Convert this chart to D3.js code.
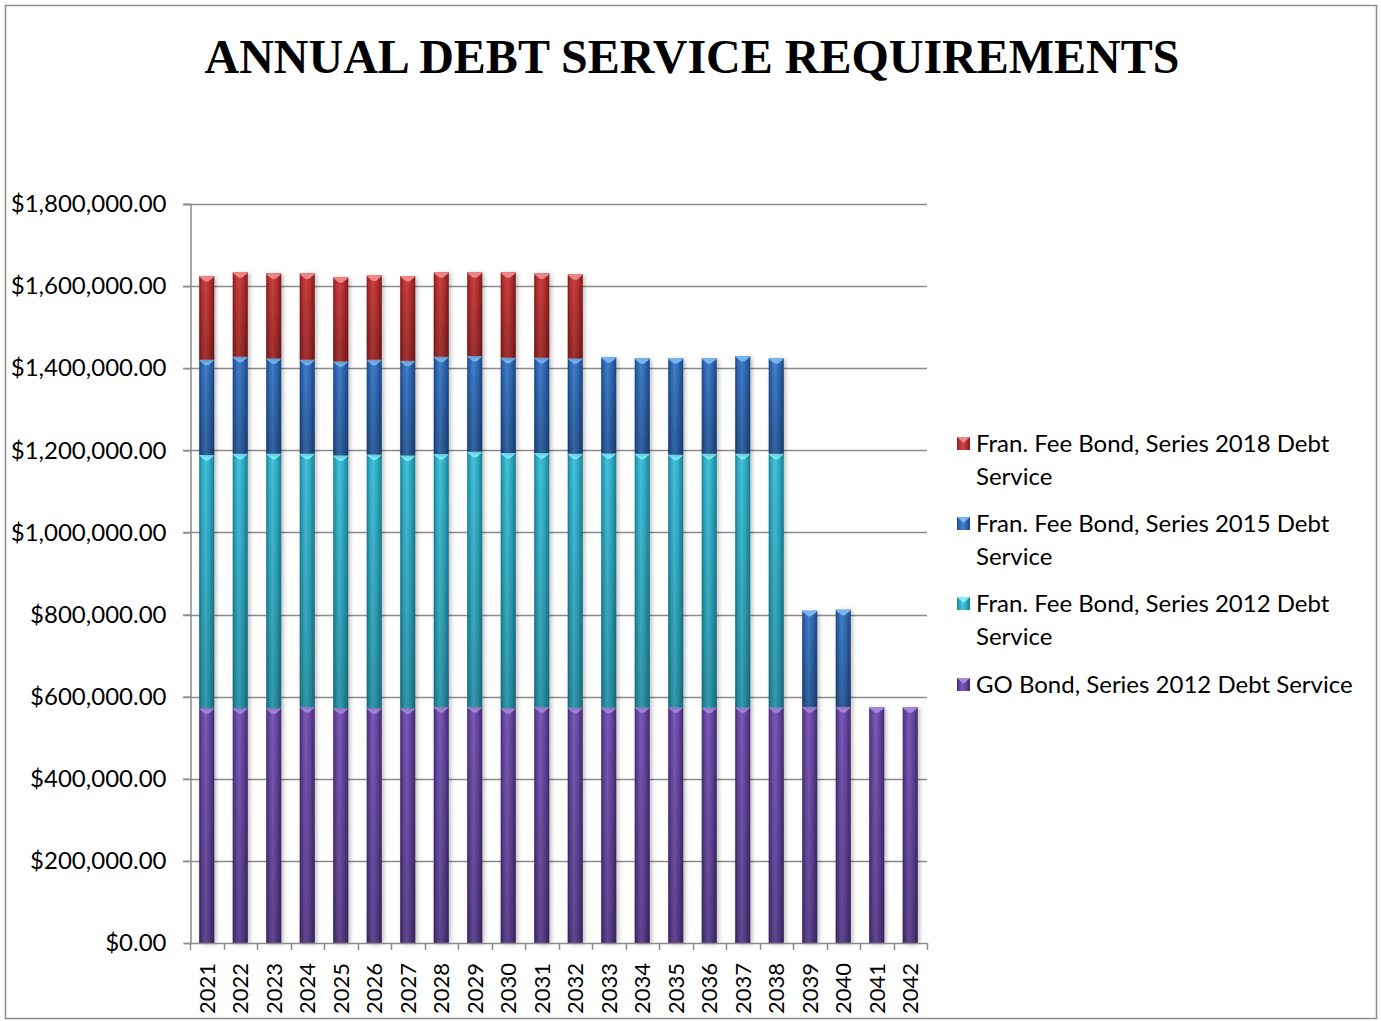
<!DOCTYPE html>
<html>
<head>
<meta charset="utf-8">
<script src="https://cdn.jsdelivr.net/npm/d3@7"></script>
<style>
  html, body { margin: 0; padding: 0; background: #fff; }
  svg { display: block; }
</style>
</head>
<body>
<svg id="chart" width="1381" height="1021"></svg>
<script>
// Fiscal years shown on the x axis
const years = ["2021","2022","2023","2024","2025","2026","2027","2028","2029","2030","2031",
               "2032","2033","2034","2035","2036","2037","2038","2039","2040","2041","2042"];

// Annual debt service per bond issue (dollars)
const goBond2012 = [572000, 572000, 572000, 575000, 572000, 572000, 572000, 575000, 575000, 572000, 575000,
                    573000, 573000, 574000, 574000, 573000, 574000, 574000, 575000, 575000, 574000, 574000];
const franFee2012 = [616600, 619800, 619800, 616800, 615700, 618000, 615700, 616000, 621700, 621400, 618400,
                     618800, 619600, 617800, 615400, 618800, 617800, 617800, 0, 0, 0, 0];
const franFee2015 = [232200, 236200, 232200, 229000, 229000, 230800, 230300, 237000, 233000, 232200, 232200,
                     232200, 234000, 232200, 234600, 232200, 237900, 232200, 234400, 236800, 0, 0];
const franFee2018 = [203800, 205600, 207000, 210200, 204700, 205200, 206600, 205600, 203900, 208000, 205400,
                     204700, 0, 0, 0, 0, 0, 0, 0, 0, 0, 0];

const seriesNames = ["GO Bond, Series 2012 Debt Service",
                     "Fran. Fee Bond, Series 2012 Debt Service",
                     "Fran. Fee Bond, Series 2015 Debt Service",
                     "Fran. Fee Bond, Series 2018 Debt Service"];
const seriesValues = [goBond2012, franFee2012, franFee2015, franFee2018];

// Legend lines (wrapped as in the legend box), top to bottom
const legendLines = [
  ["Fran. Fee Bond, Series 2018 Debt", "Service"],
  ["Fran. Fee Bond, Series 2015 Debt", "Service"],
  ["Fran. Fee Bond, Series 2012 Debt", "Service"],
  ["GO Bond, Series 2012 Debt Service"]
];
const legendSeries = [3, 2, 1, 0];

const yTicks = [0, 200000, 400000, 600000, 800000, 1000000, 1200000, 1400000, 1600000, 1800000];

// Palette per series: edge, body, highlight, bevel
const palette = [
  { edge: "#432a6c", body: "#6545a0", light: "#7a5bb6", bevel: "#a98ae0" },   // purple
  { edge: "#1b7f92", body: "#2eaac4", light: "#43c3db", bevel: "#7ff0ff" },   // cyan
  { edge: "#1c4781", body: "#2f68b4", light: "#417fca", bevel: "#7bb7f2" },   // blue
  { edge: "#7e1c1c", body: "#b83030", light: "#cc4141", bevel: "#f08a8a" }    // red
];

const margin = { left: 190, right: 927, top: 204, bottom: 943 };
const labelFont = "Lato, 'Open Sans', sans-serif";

const svg = d3.select("#chart");
const defs = svg.append("defs");

// Outer chart frame
svg.append("rect")
  .attr("x", 5.5).attr("y", 5.5)
  .attr("width", 1371).attr("height", 1013)
  .attr("fill", "#fff")
  .attr("stroke", "#8c8c8c")
  .attr("stroke-width", 1.5);

// Title
svg.append("text")
  .attr("x", 692).attr("y", 73)
  .attr("text-anchor", "middle")
  .attr("font-family", "'Liberation Serif', 'Times New Roman', serif")
  .attr("font-weight", "bold")
  .attr("font-size", 48)
  .attr("fill", "#000")
  .text("ANNUAL DEBT SERVICE REQUIREMENTS");

// Scales
const x = d3.scaleBand()
  .domain(years)
  .range([margin.left, margin.right])
  .paddingInner(0.55)
  .paddingOuter(0.275);

const y = d3.scaleLinear()
  .domain([0, 1800000])
  .range([margin.bottom, margin.top]);

// Gradients: horizontal shading gives the rounded bevel look, vertical one darkens toward the base
palette.forEach((p, i) => {
  const g = defs.append("linearGradient")
    .attr("id", "hgrad" + i)
    .attr("x1", "0").attr("x2", "1").attr("y1", "0").attr("y2", "0");
  g.append("stop").attr("offset", "0%").attr("stop-color", p.edge);
  g.append("stop").attr("offset", "18%").attr("stop-color", p.body);
  g.append("stop").attr("offset", "42%").attr("stop-color", p.light);
  g.append("stop").attr("offset", "70%").attr("stop-color", p.body);
  g.append("stop").attr("offset", "100%").attr("stop-color", p.edge);
});
const vg = defs.append("linearGradient")
  .attr("id", "vshade")
  .attr("x1", "0").attr("x2", "0").attr("y1", "0").attr("y2", "1");
vg.append("stop").attr("offset", "0%").attr("stop-color", "#000").attr("stop-opacity", 0);
vg.append("stop").attr("offset", "100%").attr("stop-color", "#000").attr("stop-opacity", 0.22);

const shadow = defs.append("filter")
  .attr("id", "shadow")
  .attr("x", "-50%").attr("y", "-5%").attr("width", "200%").attr("height", "110%");
shadow.append("feDropShadow")
  .attr("dx", 2).attr("dy", 1).attr("stdDeviation", 2)
  .attr("flood-color", "#000").attr("flood-opacity", 0.25);

// Gridlines and y-axis labels
const grid = svg.append("g");
grid.selectAll("line.grid")
  .data(yTicks.filter(d => d > 0))
  .join("line")
  .attr("class", "grid")
  .attr("x1", margin.left - 7).attr("x2", margin.right)
  .attr("y1", d => Math.round(y(d)) + 0.5).attr("y2", d => Math.round(y(d)) + 0.5)
  .attr("stroke", "#8c8c8c").attr("stroke-width", 1.5);

const yAxis = d3.axisLeft(y)
  .tickValues(yTicks)
  .tickSize(7)
  .tickPadding(17)
  .tickFormat(d => "$" + d3.format(",.2f")(d));

const yG = svg.append("g")
  .attr("transform", `translate(${margin.left + 0.5},0)`)
  .call(yAxis);
yG.select(".domain").attr("stroke", "#8c8c8c").attr("stroke-width", 1.5);
yG.selectAll(".tick line").attr("stroke", "#8c8c8c").attr("stroke-width", 1.5);
yG.selectAll(".tick text")
  .attr("font-family", labelFont)
  .attr("font-size", 24)
  .attr("fill", "#000");

// Stacked bars
const table = years.map((yr, i) => {
  const row = { year: yr };
  seriesValues.forEach((vals, s) => { row["s" + s] = vals[i]; });
  return row;
});
const stack = d3.stack().keys(seriesValues.map((_, s) => "s" + s));
const layers = stack(table);

const barsG = svg.append("g");
layers.forEach((layer, s) => {
  const p = palette[s];
  const segs = barsG.append("g")
    .selectAll("g")
    .data(layer.filter(d => d[1] - d[0] > 0))
    .join("g")
    .attr("filter", "url(#shadow)");

  segs.append("rect")
    .attr("x", d => x(d.data.year))
    .attr("y", d => y(d[1]))
    .attr("width", x.bandwidth())
    .attr("height", d => y(d[0]) - y(d[1]))
    .attr("fill", `url(#hgrad${s})`);

  segs.append("rect")
    .attr("x", d => x(d.data.year))
    .attr("y", d => y(d[1]))
    .attr("width", x.bandwidth())
    .attr("height", d => y(d[0]) - y(d[1]))
    .attr("fill", "url(#vshade)");

  // Top bevel: light rim and a small downward facet
  segs.append("path")
    .attr("d", d => {
      const x0 = x(d.data.year), x1 = x0 + x.bandwidth(), t = y(d[1]);
      const cx = (x0 + x1) / 2;
      return `M${x0},${t}L${x1},${t}L${x1 - 1.5},${t + 2}L${cx + 1.5},${t + 5.5}L${cx - 1.5},${t + 5.5}L${x0 + 1.5},${t + 2}Z`;
    })
    .attr("fill", p.bevel)
    .attr("opacity", 0.95);
});

// X axis line with category-boundary ticks
const step = x.step();
const boundaries = years.map(yr => x(yr) - (step - x.bandwidth()) / 2).concat([margin.right]);
const xG = svg.append("g");
xG.append("line")
  .attr("x1", margin.left).attr("x2", margin.right)
  .attr("y1", margin.bottom + 0.5).attr("y2", margin.bottom + 0.5)
  .attr("stroke", "#8c8c8c").attr("stroke-width", 1.5);
xG.selectAll("line.tick")
  .data(boundaries)
  .join("line")
  .attr("class", "tick")
  .attr("x1", d => Math.round(d) + 0.5).attr("x2", d => Math.round(d) + 0.5)
  .attr("y1", margin.bottom).attr("y2", margin.bottom + 7)
  .attr("stroke", "#8c8c8c").attr("stroke-width", 1.5);

xG.selectAll("text")
  .data(years)
  .join("text")
  .attr("transform", d => `translate(${x(d) + x.bandwidth() / 2},${margin.bottom + 20}) rotate(-90)`)
  .attr("text-anchor", "end")
  .attr("dy", "0.36em")
  .attr("font-family", labelFont)
  .attr("font-size", 22)
  .attr("fill", "#000")
  .text(d => d);

// Legend
const legend = svg.append("g");
const legendTop = [452, 532, 612, 693];
legendLines.forEach((lines, i) => {
  const s = legendSeries[i];
  const p = palette[s];
  const g = legend.append("g");
  const by = legendTop[i];
  g.append("rect")
    .attr("x", 957).attr("y", by - 15)
    .attr("width", 13).attr("height", 13)
    .attr("fill", `url(#hgrad${s})`);
  g.append("path")
    .attr("d", `M957,${by - 15}L970,${by - 15}L963.5,${by - 9}Z`)
    .attr("fill", p.bevel);
  lines.forEach((ln, k) => {
    g.append("text")
      .attr("x", 976).attr("y", by + k * 33)
      .attr("font-family", labelFont)
      .attr("font-size", 24)
      .attr("fill", "#000")
      .text(ln);
  });
});
</script>
</body>
</html>
